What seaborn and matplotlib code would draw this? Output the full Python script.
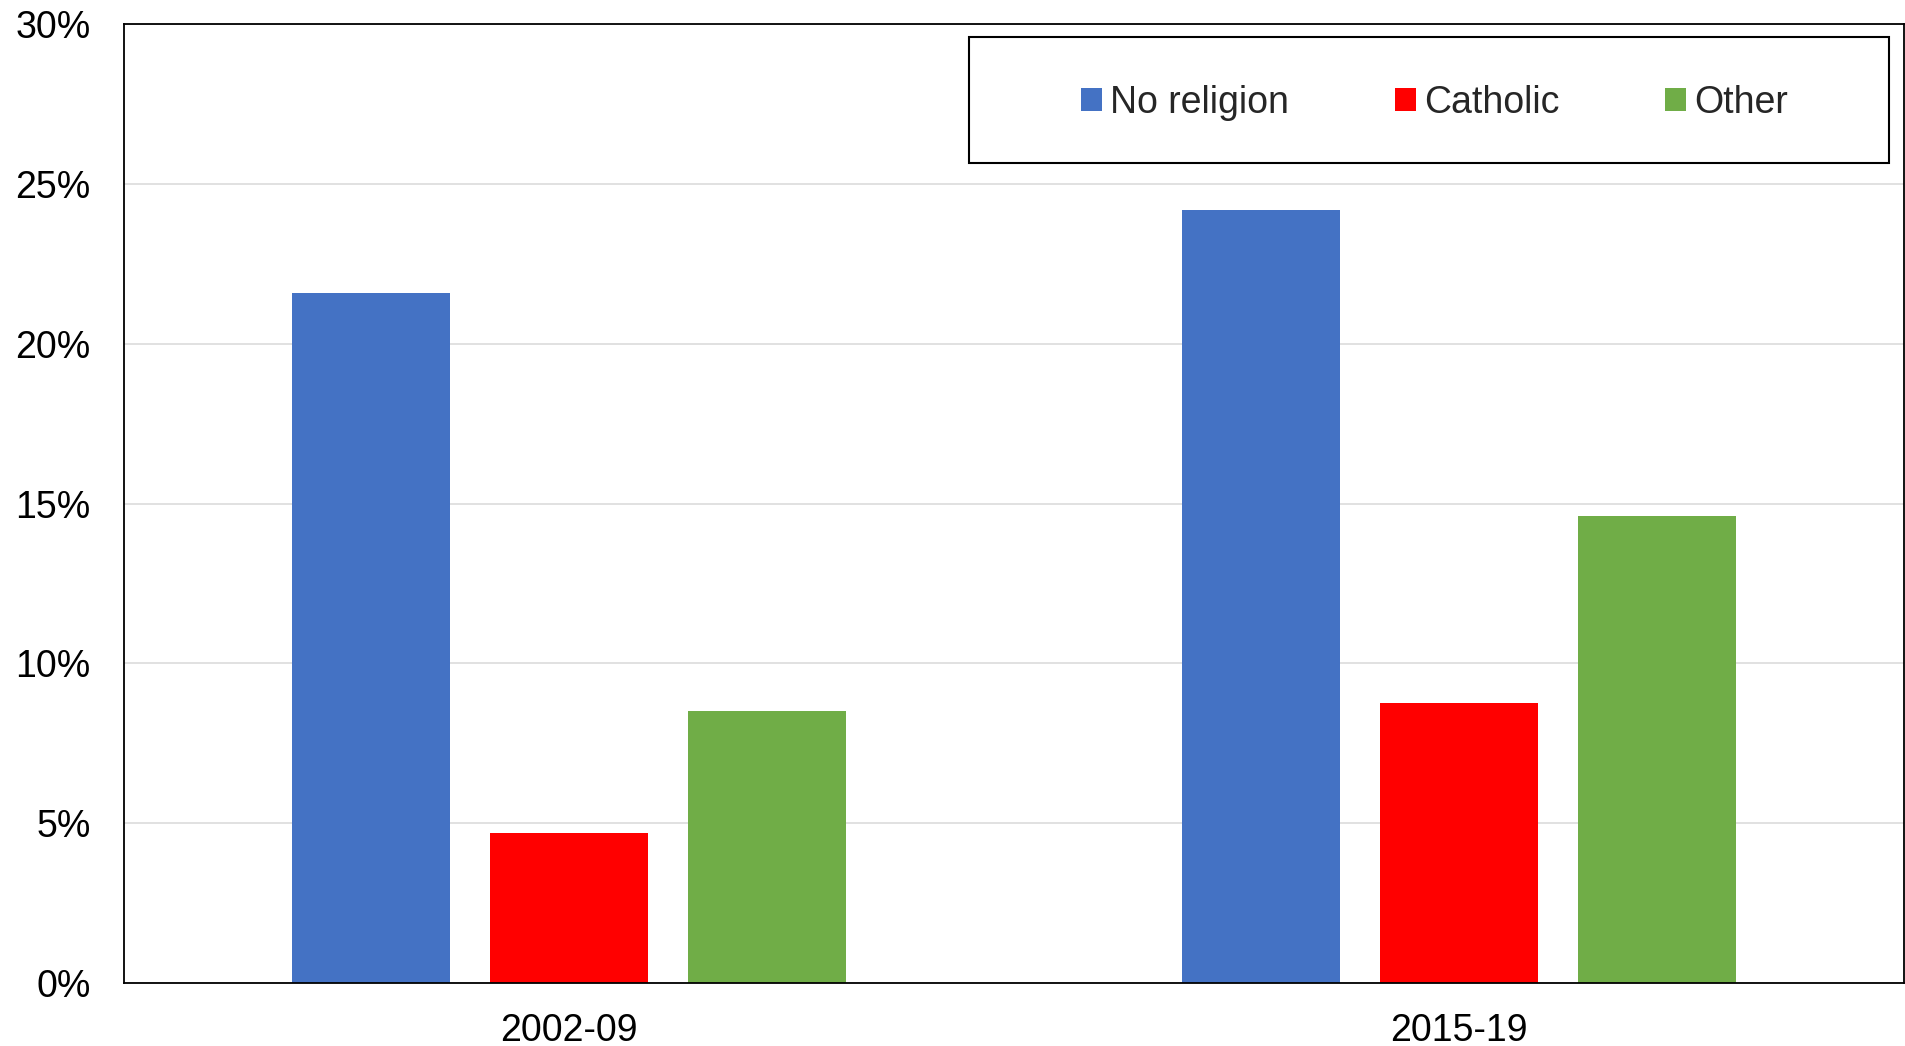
import matplotlib
matplotlib.use("Agg")
import matplotlib.pyplot as plt
import pandas as pd
import seaborn as sns
from matplotlib.patches import Rectangle
from matplotlib.ticker import FuncFormatter, MultipleLocator

PERIODS = ["2002-09", "2015-19"]
GROUPS = ["No religion", "Catholic", "Other"]
NO_RELIGION = [21.6, 24.2]
CATHOLIC = [4.7, 8.75]
OTHER = [8.5, 14.6]
COLORS = ["#4472C4", "#FF0000", "#70AD47"]

rows = []
for group, values in zip(GROUPS, [NO_RELIGION, CATHOLIC, OTHER]):
    for period, v in zip(PERIODS, values):
        rows.append({"period": period, "group": group, "share": v})
df = pd.DataFrame(rows)

sns.set_theme(style="white")
plt.rcParams["font.family"] = ["Liberation Sans", "DejaVu Sans"]

fig = plt.figure(figsize=(19.06, 10.46), dpi=100, facecolor="white")
ax = fig.add_axes([124 / 1906, (1046 - 982.8) / 1046, 1780 / 1906, 958.3 / 1046])

sns.barplot(
    data=df, x="period", y="share", hue="group",
    order=PERIODS, hue_order=GROUPS, palette=COLORS,
    width=0.668, gap=0.205, saturation=1, linewidth=0,
    errorbar=None, ax=ax,
)

ax.set_xlim(-0.5, 1.5)
ax.set_ylim(0, 30)
ax.yaxis.set_major_locator(MultipleLocator(5))
ax.yaxis.set_major_formatter(FuncFormatter(lambda v, _: f"{v:.0f}%"))
ax.yaxis.grid(True, color="#D9D9D9", linewidth=1.1)
ax.set_axisbelow(True)
ax.set_xlabel("")
ax.set_ylabel("")
for spine in ax.spines.values():
    spine.set_color("black")
    spine.set_linewidth(1.3)
ax.tick_params(axis="both", length=0, labelsize=27, labelcolor="black")
ax.tick_params(axis="y", pad=24)
ax.tick_params(axis="x", pad=21.5)

# legend: items centred inside a separately drawn frame
handles, labels = ax.get_legend_handles_labels()
ax.get_legend().remove()
ax.legend(
    handles, labels, ncol=3, frameon=False, loc="center",
    bbox_to_anchor=(0.7362, 0.9186), fontsize=27,
    handlelength=0.56, handleheight=0.56, handletextpad=0.22,
    columnspacing=2.82,
)
ax.add_patch(Rectangle(
    (0.475, 0.8555), 0.5166, 0.1314, transform=ax.transAxes,
    facecolor="white", edgecolor="black", linewidth=1.5, zorder=4,
))

fig.savefig("out.png", dpi=100, facecolor="white")
